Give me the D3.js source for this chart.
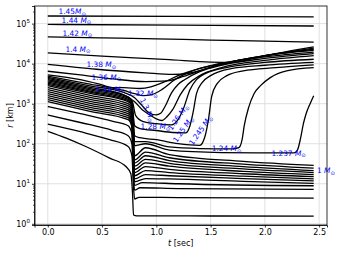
<!DOCTYPE html>
<html>
<head>
<meta charset="utf-8">
<script src="https://cdn.jsdelivr.net/npm/d3@7"></script>
<style>
  html, body { margin: 0; padding: 0; background: #fff; }
  svg { display: block; font-family: "DejaVu Sans", sans-serif; }
</style>
</head>
<body>
<svg id="chart" width="340" height="255"></svg>
<script>
// values: [t in sec, log10(r in km)]
const outerShells = [
  { m: "1.45", pts: [[0, 5.19], [1.2, 5.18], [2.45, 5.17]] },
  { m: "1.44", pts: [[0, 4.98], [1.2, 4.96], [2.45, 4.94]] },
  { m: "1.42", pts: [[0, 4.67], [0.5, 4.645], [1, 4.62], [1.5, 4.59], [2, 4.565], [2.45, 4.54]] }
]

const expandingShells = [
  { m: "1.4", pts: [[0, 4.27], [0.5, 4.19], [1.12, 4.1], [1.5, 4.04], [1.7, 4.03], [1.9, 4.13], [2.1, 4.25], [2.45, 4.42]] },
  { m: "1.38", pts: [[0, 3.98], [0.45, 3.86], [0.9, 3.77], [1.15, 3.73], [1.3, 3.76], [1.5, 3.9], [1.75, 4.08], [2.0, 4.2], [2.45, 4.39]] },
  { m: "1.36", pts: [[0, 3.81], [0.3, 3.72], [0.6, 3.62], [0.9, 3.55], [1.1, 3.57], [1.25, 3.68], [1.45, 3.87], [1.7, 4.05], [2.0, 4.2], [2.45, 4.36]] },
  { m: "1.34", pts: [[0, 3.72], [0.3, 3.6], [0.5, 3.47], [0.6, 3.4], [0.7, 3.4], [0.85, 3.38], [0.95, 3.42], [1.08, 3.55], [1.2, 3.7], [1.4, 3.88], [1.7, 4.05], [2.0, 4.2], [2.45, 4.33]] },
  { m: "1.32", pts: [[0, 3.69], [0.4, 3.48], [0.7, 3.33], [0.8, 3.25], [0.88, 3.2], [0.95, 3.22], [1.05, 3.35], [1.17, 3.6], [1.3, 3.78], [1.5, 3.95], [2.0, 4.17], [2.45, 4.29]] },
  { m: "1.3", pts: [[0, 3.66], [0.4, 3.44], [0.7, 3.28], [0.8, 3.15], [0.86, 2.98], [0.92, 2.8], [1.0, 2.72], [1.04, 2.76], [1.08, 2.93], [1.14, 3.27], [1.2, 3.48], [1.26, 3.6], [1.4, 3.8], [1.6, 3.96], [2.0, 4.13], [2.45, 4.25]] },
  { m: "1.28", pts: [[0, 3.63], [0.4, 3.40], [0.7, 3.22], [0.8, 3.05], [0.87, 2.85], [0.94, 2.72], [1.0, 2.62], [1.05, 2.58], [1.1, 2.68], [1.15, 2.85], [1.22, 3.22], [1.29, 3.48], [1.4, 3.7], [1.6, 3.9], [2.0, 4.08], [2.45, 4.2]] },
  { m: "1.26", pts: [[0, 3.60], [0.4, 3.37], [0.74, 3.17], [0.78, 3.05], [0.81, 2.7], [0.88, 2.55], [1.0, 2.5], [1.14, 2.47], [1.2, 2.6], [1.25, 2.88], [1.31, 3.35], [1.37, 3.6], [1.45, 3.75], [1.7, 3.93], [2.0, 4.03], [2.45, 4.11]] },
  { m: "1.25", pts: [[0, 3.57], [0.4, 3.34], [0.74, 3.14], [0.775, 3.05], [0.79, 2.65], [0.80, 2.45], [0.85, 2.38], [1.0, 2.33], [1.15, 2.28], [1.27, 2.27], [1.31, 2.45], [1.34, 2.8], [1.37, 3.25], [1.42, 3.52], [1.5, 3.7], [1.7, 3.88], [2.0, 3.96], [2.45, 4.03]] },
  { m: "1.245", pts: [[0, 3.54], [0.4, 3.31], [0.74, 3.11], [0.775, 3.02], [0.79, 2.5], [0.80, 2.2], [0.85, 2.15], [1.0, 2.1], [1.2, 2.0], [1.4, 1.96], [1.45, 2.2], [1.48, 2.6], [1.51, 3.18], [1.56, 3.5], [1.65, 3.7], [1.8, 3.82], [2.1, 3.9], [2.45, 3.97]] },
  { m: "1.24", pts: [[0, 3.51], [0.4, 3.28], [0.74, 3.08], [0.775, 2.98], [0.79, 2.4], [0.80, 2.05], [0.9, 2.05], [1.12, 1.92], [1.4, 1.88], [1.70, 1.87], [1.76, 1.9], [1.79, 2.1], [1.81, 2.45], [1.85, 2.9], [1.9, 3.25], [1.96, 3.45], [2.05, 3.65], [2.2, 3.82], [2.45, 3.9]] },
  { m: "1.237", pts: [[0, 3.48], [0.4, 3.25], [0.74, 3.05], [0.775, 2.95], [0.79, 2.3], [0.80, 1.95], [0.9, 2.0], [1.12, 1.84], [1.6, 1.78], [2.1, 1.77], [2.27, 1.77], [2.30, 1.84], [2.33, 2.15], [2.355, 2.5], [2.38, 2.75], [2.42, 3.02], [2.45, 3.2]] }
]

// inner shells that fall in and settle
const settledShells = [
  [[0, 2.31], [0.17, 2.14], [0.35, 1.93], [0.57, 1.64], [0.72, 1.43], [0.765, 1.25], [0.78, 0.8], [0.79, 0.22], [0.82, 0.2], [1.5, 0.195], [2.45, 0.19]],
  [[0, 2.49], [0.3, 2.3], [0.57, 2.1], [0.74, 1.93], [0.775, 1.7], [0.79, 0.9], [0.80, 0.62], [0.84, 0.66], [1.2, 0.655], [2.45, 0.64]],
  [[0, 2.72], [0.3, 2.53], [0.6, 2.33], [0.74, 2.2], [0.775, 2.0], [0.79, 1.1], [0.80, 0.84], [0.85, 0.9], [1.2, 0.88], [2.45, 0.86]],
  [[0, 2.93], [0.3, 2.75], [0.6, 2.56], [0.74, 2.45], [0.775, 2.25], [0.79, 1.2], [0.80, 0.96], [0.87, 1.03], [1.2, 1.0], [2.45, 0.95]],
  [[0, 3.05], [0.4, 2.8], [0.74, 2.6], [0.775, 2.42], [0.79, 1.3], [0.80, 1.05], [0.9, 1.13], [1.12, 1.12], [1.8, 1.06], [2.45, 1.01]],
  [[0, 3.10], [0.4, 2.85], [0.74, 2.65], [0.775, 2.48], [0.79, 1.4], [0.80, 1.12], [0.9, 1.23], [1.12, 1.20], [1.8, 1.13], [2.45, 1.07]],
  [[0, 3.15], [0.4, 2.9], [0.74, 2.7], [0.775, 2.54], [0.79, 1.5], [0.80, 1.2], [0.9, 1.33], [1.12, 1.28], [1.8, 1.19], [2.45, 1.12]],
  [[0, 3.20], [0.4, 2.95], [0.74, 2.75], [0.775, 2.6], [0.79, 1.6], [0.80, 1.28], [0.9, 1.43], [1.12, 1.36], [1.8, 1.25], [2.45, 1.18]],
  [[0, 3.25], [0.4, 3.0], [0.74, 2.8], [0.775, 2.66], [0.79, 1.7], [0.80, 1.36], [0.9, 1.52], [1.12, 1.44], [1.8, 1.31], [2.45, 1.23]],
  [[0, 3.30], [0.4, 3.05], [0.74, 2.85], [0.775, 2.72], [0.79, 1.8], [0.80, 1.44], [0.9, 1.61], [1.12, 1.51], [1.8, 1.37], [2.45, 1.28]],
  [[0, 3.35], [0.4, 3.1], [0.74, 2.9], [0.775, 2.78], [0.79, 1.9], [0.80, 1.52], [0.9, 1.70], [1.12, 1.58], [1.8, 1.43], [2.45, 1.33]],
  [[0, 3.40], [0.4, 3.15], [0.74, 2.95], [0.775, 2.84], [0.79, 2.0], [0.80, 1.6], [0.9, 1.79], [1.12, 1.65], [1.8, 1.49], [2.45, 1.39]],
  [[0, 3.45], [0.4, 3.2], [0.74, 3.0], [0.775, 2.9], [0.79, 2.1], [0.80, 1.7], [0.9, 1.9], [1.12, 1.73], [1.8, 1.56], [2.45, 1.46]]
]

// mass labels: [text, t, log10 r, rotation, space before M]
const massLabels = [
  ["1.45", 0.099, 5.24, 0, false],
  ["1.44", 0.127, 5.02, 0, true],
  ["1.42", 0.135, 4.70, 0, true],
  ["1.4", 0.163, 4.30, 0, true],
  ["1.38", 0.357, 3.91, 0, true],
  ["1.36", 0.403, 3.60, 0, true],
  ["1.34", 0.44, 3.30, 0, true],
  ["1.32", 0.74, 3.19, 0, true],
  ["1.3", 0.847, 3.10, 65, true],
  ["1.28", 0.855, 2.36, 0, true],
  ["1.26", 1.141, 2.32, -55, true],
  ["1.25", 1.187, 2.02, -55, true],
  ["1.245", 1.335, 1.95, -55, true],
  ["1.24", 1.51, 1.82, 0, true],
  ["1.237", 2.06, 1.70, 0, true],
  ["1", 2.48, 1.27, 0, true]
]

const xTicks = [0, 0.5, 1, 1.5, 2, 2.5]
const yTicks = [1, 10, 100, 1000, 10000, 100000]

const svg = d3.select("#chart")
const plot = { left: 34.5, right: 327, top: 6, bottom: 225 }

const x = d3.scaleLinear().domain([-0.1225, 2.5725]).range([plot.left, plot.right])
const y = d3.scaleLog().domain([Math.pow(10, -0.03), Math.pow(10, 5.44)]).range([plot.bottom, plot.top])

svg.append("defs").append("clipPath").attr("id", "clip")
  .append("rect")
  .attr("x", plot.left).attr("y", plot.top)
  .attr("width", plot.right - plot.left).attr("height", plot.bottom - plot.top)

// grid
const grid = svg.append("g").attr("stroke", "#dcdcdc").attr("stroke-width", 0.9)
grid.selectAll("line.gx").data(xTicks).join("line")
  .attr("x1", d => x(d)).attr("x2", d => x(d))
  .attr("y1", plot.top).attr("y2", plot.bottom)
grid.selectAll("line.gy").data(yTicks).join("line")
  .attr("y1", d => y(d)).attr("y2", d => y(d))
  .attr("x1", plot.left).attr("x2", plot.right)

// shell trajectories
const line = d3.line()
  .x(d => x(d[0]))
  .y(d => y(Math.pow(10, d[1])))
  .curve(d3.curveMonotoneX)

const allPaths = outerShells.map(d => d.pts)
  .concat(expandingShells.map(d => d.pts))
  .concat(settledShells)

svg.append("g").attr("clip-path", "url(#clip)")
  .selectAll("path").data(allPaths).join("path")
  .attr("d", line)
  .attr("fill", "none")
  .attr("stroke", "#000")
  .attr("stroke-width", 1.3)
  .attr("stroke-linejoin", "round")

// labels
const labels = svg.append("g").attr("fill", "#0000ff").attr("font-size", 7.4)
labels.selectAll("text").data(massLabels).join("text")
  .attr("transform", d => `translate(${x(d[1])},${y(Math.pow(10, d[2]))}) rotate(${d[3]})`)
  .each(function (d) {
    const t = d3.select(this)
    t.append("tspan").text(d[0] + (d[4] ? " " : ""))
    t.append("tspan").attr("font-style", "italic").text("M")
    t.append("tspan").attr("font-size", 5.4).attr("dy", 1.6).text("\u2299")
  })

// axes
const xAxis = svg.append("g")
  .attr("transform", `translate(0,${plot.bottom})`)
  .call(d3.axisBottom(x).tickValues(xTicks).tickFormat(d3.format(".1f")).tickSize(2.5).tickPadding(2))
xAxis.selectAll("text").attr("font-size", 8).attr("font-family", "DejaVu Sans").attr("fill", "#000")

const yAxis = svg.append("g")
  .attr("transform", `translate(${plot.left},0)`)
  .call(d3.axisLeft(y).tickValues(yTicks).tickFormat("").tickSize(2.5).tickPadding(2))
yAxis.selectAll(".tick text")
  .attr("font-size", 8).attr("font-family", "DejaVu Sans").attr("fill", "#000")
  .each(function (d) {
    const t = d3.select(this)
    t.append("tspan").text("10")
    t.append("tspan").attr("font-size", 5.6).attr("dy", -3.5).text(Math.round(Math.log10(d)))
  })

const minor = []
for (let k = 0; k < 6; k++) for (let j = 2; j < 10; j++) {
  const v = j * Math.pow(10, k)
  if (v < y.domain()[1]) minor.push(v)
}
svg.append("g")
  .attr("transform", `translate(${plot.left},0)`)
  .call(d3.axisLeft(y).tickValues(minor).tickFormat("").tickSize(1.4))
  .call(g => g.select(".domain").remove())
  .selectAll("line").attr("stroke-width", 0.6)

svg.selectAll(".domain").attr("stroke-width", 0.8)
svg.selectAll(".tick line").attr("stroke-width", 0.8)

// frame
svg.append("rect")
  .attr("x", plot.left).attr("y", plot.top)
  .attr("width", plot.right - plot.left).attr("height", plot.bottom - plot.top)
  .attr("fill", "none").attr("stroke", "#000").attr("stroke-width", 0.8)

// axis titles
svg.append("text")
  .attr("x", (plot.left + plot.right) / 2).attr("y", 246)
  .attr("text-anchor", "middle").attr("font-size", 8)
  .call(t => {
    t.append("tspan").attr("font-style", "italic").text("t")
    t.append("tspan").text(" [sec]")
  })

svg.append("text")
  .attr("transform", `translate(13,${(plot.top + plot.bottom) / 2}) rotate(-90)`)
  .attr("text-anchor", "middle").attr("font-size", 8)
  .call(t => {
    t.append("tspan").attr("font-style", "italic").text("r")
    t.append("tspan").text(" [km]")
  })
</script>
</body>
</html>
